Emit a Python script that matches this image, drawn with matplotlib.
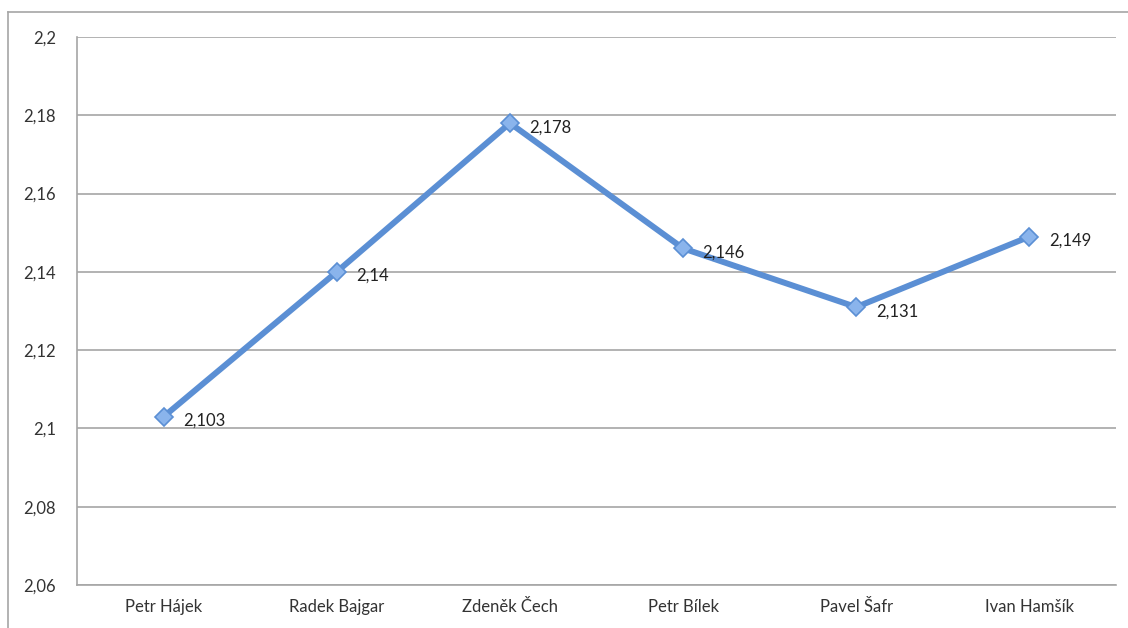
import matplotlib.pyplot as plt
from matplotlib.lines import Line2D

players = ['Petr Hájek', 'Radek Bajgar', 'Zdeněk Čech', 'Petr Bílek', 'Pavel Šafr', 'Ivan Hamšík']
values = [2.103, 2.14, 2.178, 2.146, 2.131, 2.149]
yticks = [2.06, 2.08, 2.1, 2.12, 2.14, 2.16, 2.18, 2.2]

plt.rcParams['font.family'] = ['Lato', 'DejaVu Sans']

fig = plt.figure(figsize=(11.28, 6.28), dpi=100)
ax = fig.add_axes([77 / 1128, 1 - 585 / 628, (1116 - 77) / 1128, (585 - 37) / 628])

x = list(range(len(players)))
ax.plot(x, values, color='#5b8fd4', lw=4.3, marker='D', markersize=9.5,
        markerfacecolor='#8ab4ec', markeredgecolor='#5b8fd4', markeredgewidth=1.2,
        solid_capstyle='round', zorder=3)

for xi, v in zip(x, values):
    ax.annotate(f'{v:g}'.replace('.', ','), (xi, v), xytext=(14, -3),
                textcoords='offset points', va='center', ha='left',
                fontsize=12, color='#222222')

ax.set_xlim(-0.5, len(players) - 0.5)
ax.set_ylim(2.06, 2.2)
ax.set_yticks(yticks)
ax.set_yticklabels([f'{t:g}'.replace('.', ',') for t in yticks])
ax.set_xticks(x)
ax.set_xticklabels(players)
ax.tick_params(axis='both', length=0, labelsize=12, colors='#333333')
ax.tick_params(axis='y', pad=15)
ax.tick_params(axis='x', pad=10)
ax.grid(axis='y', color='#a6a6a6', lw=1.2)
ax.set_axisbelow(True)

for s in ['top', 'right']:
    ax.spines[s].set_visible(False)
for s in ['left', 'bottom']:
    ax.spines[s].set_color('#a6a6a6')
    ax.spines[s].set_linewidth(1.2)

# outer frame of the chart (top and left visible)
fig.add_artist(Line2D([8 / 1128, 1], [1 - 12 / 628, 1 - 12 / 628], color='#a6a6a6', lw=1.2, transform=fig.transFigure))
fig.add_artist(Line2D([8 / 1128, 8 / 1128], [0, 1 - 12 / 628], color='#a6a6a6', lw=1.2, transform=fig.transFigure))

fig.savefig('out.png', dpi=100)
